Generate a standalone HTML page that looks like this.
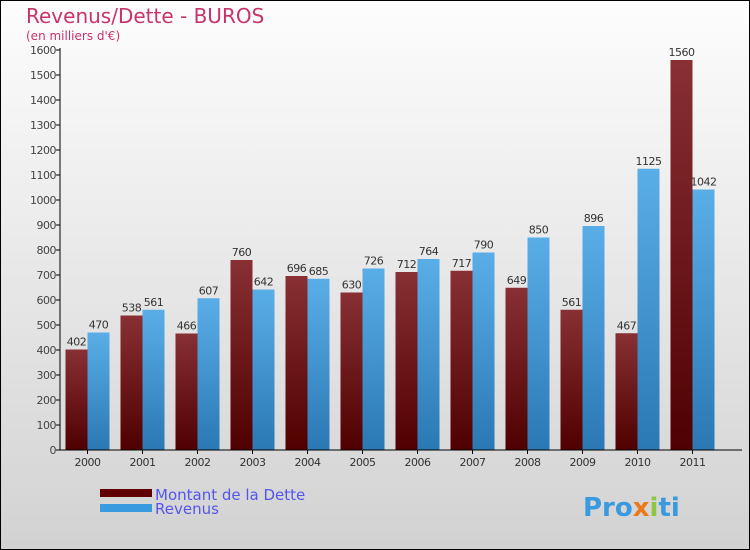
<!DOCTYPE html>
<html><head><meta charset="utf-8"><style>
body{margin:0}
#c{width:750px;height:550px;position:relative;box-sizing:border-box;border:1px solid #000;background:linear-gradient(#fdfdfd,#d2d2d2);font-family:"DejaVu Sans","Liberation Sans",sans-serif;overflow:hidden}
</style></head><body>
<div id="c">
<svg id="s" width="750" height="550" style="position:absolute;left:-1px;top:-1px">
<defs>
<linearGradient id="gd" x1="0" y1="0" x2="0" y2="1"><stop offset="0" stop-color="#883034"/><stop offset="1" stop-color="#500000"/></linearGradient>
<linearGradient id="gr" x1="0" y1="0" x2="0" y2="1"><stop offset="0" stop-color="#5aaee8"/><stop offset="1" stop-color="#2a78b4"/></linearGradient>
</defs>
<text x="26" y="23" font-size="20" fill="#c8336a">Revenus/Dette - BUROS</text>
<text x="26" y="40" font-size="12" fill="#c8336a">(en milliers d'€)</text>
<g id="plot"></g>
<rect x="100" y="489" width="52" height="8" fill="#600000"/>
<rect x="100" y="504" width="52" height="8" fill="#3a9ae0"/>
<text x="155" y="500" font-size="15" fill="#5555ee">Montant de la Dette</text>
<text x="155" y="514" font-size="15" fill="#5555ee">Revenus</text>
<text x="583" y="516" font-size="26" font-weight="bold" fill="#3a9ae0">Pro<tspan fill="#e87a1a">x</tspan><tspan fill="#8cc63e">i</tspan>ti</text>
</svg>
</div>
<script>
const years=["2000","2001","2002","2003","2004","2005","2006","2007","2008","2009","2010","2011"];
const dette=[402,538,466,760,696,630,712,717,649,561,467,1560];
const revenus=[470,561,607,642,685,726,764,790,850,896,1125,1042];
const ticks=[0,100,200,300,400,500,600,700,800,900,1000,1100,1200,1300,1400,1500,1600];
const NS="http://www.w3.org/2000/svg",g=document.getElementById('plot');
const y0=450,ymax=1600,ph=400,x0=60,step=55,bw=22;
const Y=v=>y0-v/ymax*ph, X=i=>x0+5.5+i*step;
function mk(t,a,txt){const e=document.createElementNS(NS,t);for(const k in a)e.setAttribute(k,a[k]);if(txt!=null)e.textContent=txt;g.appendChild(e);return e;}
ticks.forEach(t=>{const l=mk('line',{x1:x0-4,x2:x0,y1:Y(t),y2:Y(t),stroke:'#000'});


const tx=mk('text',{x:x0-4,y:Y(t)+4,'font-size':11,'text-anchor':'end',fill:'#444','letter-spacing':'-0.5'},t);

});
years.forEach((yr,i)=>{const x=X(i);
const a=mk('rect',{x:x,y:Y(dette[i]),width:bw,height:y0-Y(dette[i]),fill:'url(#gd)'});


const b=mk('rect',{x:x+bw,y:Y(revenus[i]),width:bw,height:y0-Y(revenus[i]),fill:'url(#gr)'});


const la=mk('text',{x:x+bw/2,y:Y(dette[i])-4,'font-size':11,'text-anchor':'middle',fill:'#333','letter-spacing':'-0.5'},dette[i]);


const lb=mk('text',{x:x+bw*1.5,y:Y(revenus[i])-4,'font-size':11,'text-anchor':'middle',fill:'#333','letter-spacing':'-0.5'},revenus[i]);


const tk=mk('line',{x1:x+bw,x2:x+bw,y1:y0,y2:y0+4,stroke:'#000'});


const xl=mk('text',{x:x+bw,y:y0+16,'font-size':11,'text-anchor':'middle',fill:'#333','letter-spacing':'-0.5'},yr);

});
const ax=mk('line',{x1:x0,x2:x0,y1:Y(1600)-2,y2:y0,stroke:'#000'});


const bx=mk('line',{x1:x0,x2:742,y1:y0,y2:y0,stroke:'#000'});


</script>
</body></html>
